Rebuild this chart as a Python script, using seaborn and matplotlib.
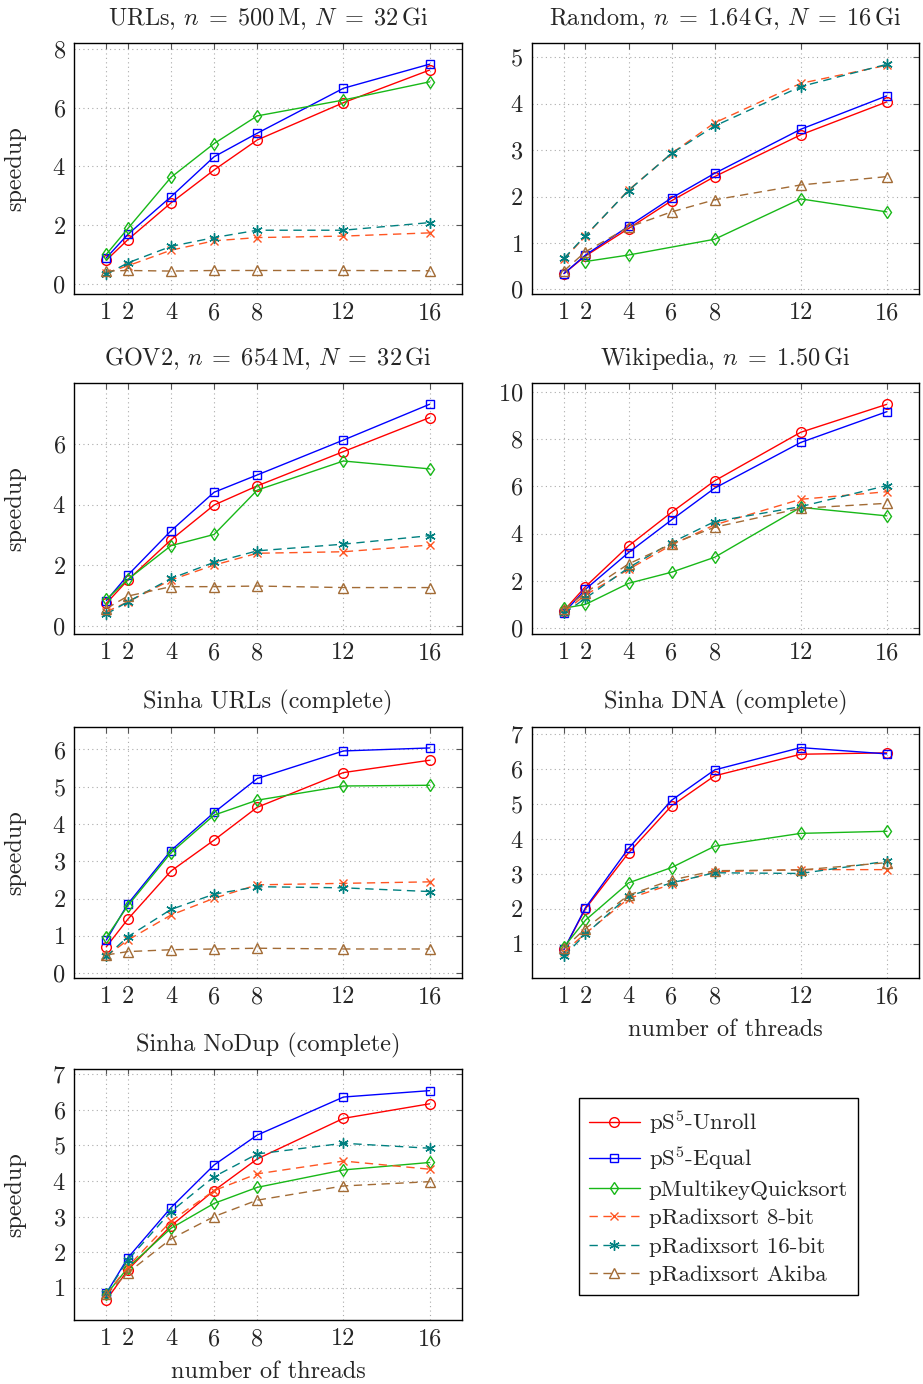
import numpy as np
import pandas as pd
import matplotlib
matplotlib.use("Agg")
import matplotlib.pyplot as plt
import seaborn as sns

threads = [1, 2, 4, 6, 8, 12, 16]
xtick_labels = ["1", "2", "4", "6", "8", "12", "16"]

series_names = ["pS$^5$-Unroll", "pS$^5$-Equal", "pMultikeyQuicksort",
                "pRadixsort 8-bit", "pRadixsort 16-bit", "pRadixsort Akiba"]

# --- URLs ---
urls_unroll = [0.81, 1.51, 2.76, 3.88, 4.90, 6.17, 7.28]
urls_equal = [0.89, 1.69, 2.97, 4.33, 5.13, 6.66, 7.48]
urls_mkqs = [1.01, 1.89, 3.63, 4.78, 5.72, 6.26, 6.88]
urls_rx8 = [0.38, 0.62, 1.15, 1.47, 1.58, 1.63, 1.74]
urls_rx16 = [0.33, 0.72, 1.28, 1.58, 1.83, 1.83, 2.09]
urls_akiba = [0.44, 0.46, 0.44, 0.46, 0.46, 0.46, 0.45]

# --- Random ---
rand_unroll = [0.34, 0.72, 1.31, 1.91, 2.43, 3.33, 4.04]
rand_equal = [0.34, 0.74, 1.36, 1.97, 2.50, 3.45, 4.17]
rand_mkqs = [np.nan, 0.60, 0.74, np.nan, 1.08, 1.95, 1.67]
rand_rx8 = [0.65, 1.15, 2.14, 2.93, 3.59, 4.44, 4.83]
rand_rx16 = [0.67, 1.16, 2.13, 2.93, 3.52, 4.37, 4.85]
rand_akiba = [0.40, 0.81, 1.34, 1.67, 1.93, 2.25, 2.43]

# --- GOV2 ---
gov_unroll = [0.75, 1.52, 2.84, 3.99, 4.62, 5.75, 6.87]
gov_equal = [0.84, 1.68, 3.14, 4.41, 4.98, 6.13, 7.31]
gov_mkqs = [0.88, 1.54, 2.65, 3.02, 4.48, 5.44, 5.18]
gov_rx8 = [0.47, 0.80, 1.52, 2.01, 2.40, 2.45, 2.67]
gov_rx16 = [0.40, 0.80, 1.57, 2.10, 2.48, 2.70, 2.98]
gov_akiba = [0.58, 0.99, 1.30, 1.30, 1.32, 1.27, 1.27]

# --- Wikipedia ---
wiki_unroll = [0.75, 1.76, 3.48, 4.90, 6.23, 8.28, 9.46]
wiki_equal = [0.66, 1.65, 3.20, 4.58, 5.92, 7.85, 9.15]
wiki_mkqs = [0.85, 1.01, 1.90, 2.37, 3.00, 5.11, 4.75]
wiki_rx8 = [0.70, 1.41, 2.49, 3.52, 4.37, 5.45, 5.77]
wiki_rx16 = [0.63, 1.27, 2.56, 3.62, 4.51, 5.14, 6.03]
wiki_akiba = [0.80, 1.51, 2.72, 3.56, 4.27, 5.07, 5.28]

# --- Sinha URLs ---
surl_unroll = [0.71, 1.45, 2.74, 3.57, 4.45, 5.38, 5.71]
surl_equal = [0.89, 1.86, 3.29, 4.31, 5.22, 5.96, 6.04]
surl_mkqs = [0.96, 1.81, 3.23, 4.24, 4.64, 5.02, 5.04]
surl_rx8 = [0.46, 0.89, 1.56, 2.01, 2.37, 2.41, 2.45]
surl_rx16 = [0.45, 0.98, 1.71, 2.12, 2.32, 2.29, 2.19]
surl_akiba = [0.49, 0.58, 0.63, 0.65, 0.67, 0.65, 0.65]

# --- Sinha DNA ---
dna_unroll = [0.83, 2.00, 3.60, 4.95, 5.81, 6.43, 6.47]
dna_equal = [0.83, 2.03, 3.73, 5.11, 5.98, 6.62, 6.44]
dna_mkqs = [0.90, 1.67, 2.74, 3.18, 3.79, 4.16, 4.22]
dna_rx8 = [0.76, 1.29, 2.29, 2.70, 3.06, 3.12, 3.12]
dna_rx16 = [0.64, 1.27, 2.36, 2.74, 3.03, 3.01, 3.36]
dna_akiba = [0.86, 1.43, 2.39, 2.82, 3.09, 3.11, 3.32]

# --- Sinha NoDup ---
nodup_unroll = [0.65, 1.50, 2.74, 3.73, 4.62, 5.76, 6.17]
nodup_equal = [0.84, 1.84, 3.25, 4.45, 5.29, 6.36, 6.54]
nodup_mkqs = [0.81, 1.56, 2.67, 3.37, 3.82, 4.31, 4.52]
nodup_rx8 = [0.81, 1.59, 2.87, 3.73, 4.20, 4.56, 4.33]
nodup_rx16 = [0.84, 1.78, 3.14, 4.12, 4.76, 5.06, 4.92]
nodup_akiba = [0.81, 1.42, 2.37, 3.00, 3.46, 3.86, 3.98]

titles = [
    r"URLs, $n \;=\; 500\,\mathrm{M}$, $N \;=\; 32\,\mathrm{Gi}$",
    r"Random, $n \;=\; 1.64\,\mathrm{G}$, $N \;=\; 16\,\mathrm{Gi}$",
    r"GOV2, $n \;=\; 654\,\mathrm{M}$, $N \;=\; 32\,\mathrm{Gi}$",
    r"Wikipedia, $n \;=\; 1.50\,\mathrm{Gi}$",
    "Sinha URLs (complete)",
    "Sinha DNA (complete)",
    "Sinha NoDup (complete)",
]
panel_data = [
    [urls_unroll, urls_equal, urls_mkqs, urls_rx8, urls_rx16, urls_akiba],
    [rand_unroll, rand_equal, rand_mkqs, rand_rx8, rand_rx16, rand_akiba],
    [gov_unroll, gov_equal, gov_mkqs, gov_rx8, gov_rx16, gov_akiba],
    [wiki_unroll, wiki_equal, wiki_mkqs, wiki_rx8, wiki_rx16, wiki_akiba],
    [surl_unroll, surl_equal, surl_mkqs, surl_rx8, surl_rx16, surl_akiba],
    [dna_unroll, dna_equal, dna_mkqs, dna_rx8, dna_rx16, dna_akiba],
    [nodup_unroll, nodup_equal, nodup_mkqs, nodup_rx8, nodup_rx16, nodup_akiba],
]
yticks_list = [
    [0, 2, 4, 6, 8],
    [0, 1, 2, 3, 4, 5],
    [0, 2, 4, 6],
    [0, 2, 4, 6, 8, 10],
    [0, 1, 2, 3, 4, 5, 6],
    [1, 2, 3, 4, 5, 6, 7],
    [1, 2, 3, 4, 5, 6, 7],
]
ylims = [(-0.34, 8.2), (-0.10, 5.31), (-0.26, 8.0), (-0.24, 10.35),
         (-0.12, 6.61), (0.02, 7.22), (0.09, 7.14)]

colors = ["#ff0000", "#0000ff", "#18b818", "#ff5522", "#008080", "#a26b35"]
markers = ["o", "s", "d", "x", (6, 2, 0), "^"]
msizes = [7.0, 6.0, 6.5, 6.0, 7.5, 6.5]
dash = (0, (6, 4))
linestyles = ["-", "-", "-", dash, dash, dash]

sns.set_theme(style="white")
plt.rcParams["font.family"] = ["cmr10", "DejaVu Serif"]
plt.rcParams["mathtext.fontset"] = "cm"
plt.rcParams["axes.formatter.use_mathtext"] = True
plt.rcParams["axes.unicode_minus"] = False

W, H = 923, 1384
fig = plt.figure(figsize=(W / 100, H / 100), dpi=100)
fig.patch.set_facecolor("white")

col_x = [(74, 462), (531.7, 919)]
row_y = [(43, 294), (383.3, 634), (726.7, 977.7), (1069.3, 1320)]

FS = 17.5
FS_LEG = 16.5

axes = []
for i in range(7):
    r, c = divmod(i, 2)
    x0, x1 = col_x[c]
    y0, y1 = row_y[r]
    ax = fig.add_axes([x0 / W, 1 - y1 / H, (x1 - x0) / W, (y1 - y0) / H])
    axes.append(ax)
    rows = []
    for s, vals in enumerate(panel_data[i]):
        for t, v in zip(threads, vals):
            rows.append({"threads": t, "speedup": v, "series": series_names[s]})
    df = pd.DataFrame(rows).dropna()
    for s, name in enumerate(series_names):
        sub = df[df["series"] == name]
        sns.lineplot(data=sub, x="threads", y="speedup", ax=ax,
                     color=colors[s], marker=markers[s], markersize=msizes[s],
                     markerfacecolor="none", markeredgecolor=colors[s],
                     markeredgewidth=1.0, linestyle=linestyles[s], lw=1.0,
                     estimator=None, sort=False, legend=False, label=name)
    ax.set_xlim(-0.5, 17.5)
    ax.set_ylim(*ylims[i])
    ax.set_xticks(threads)
    ax.set_xticklabels(xtick_labels)
    ax.set_yticks(yticks_list[i])
    ax.tick_params(direction="in", top=True, right=True, length=4, width=0.8,
                   color="#555555", labelsize=FS, pad=6)
    ax.grid(True, linestyle=(0, (1, 3)), color="#aaaaaa", linewidth=0.8)
    for sp in ax.spines.values():
        sp.set_color("black")
        sp.set_linewidth(1.0)
    ax.set_title(titles[i], fontsize=FS, pad=13)
    ax.set_xlabel("")
    ax.set_ylabel("")
    if c == 0:
        ax.set_ylabel("speedup", fontsize=FS)
        ax.yaxis.set_label_coords(-0.124, 0.5)
    if i in (5, 6):
        ax.set_xlabel("number of threads", fontsize=FS)
        ax.xaxis.set_label_coords(0.5, -0.165)

handles, labels = axes[0].get_legend_handles_labels()
leg = fig.legend(handles, labels, loc="center",
                 bbox_to_anchor=(718.7 / W, 1 - 1196.5 / H),
                 fontsize=FS_LEG, frameon=True, fancybox=False, edgecolor="black",
                 framealpha=1, handlelength=2.2, handletextpad=0.4,
                 labelspacing=0.35, borderpad=0.45, numpoints=1)
leg.get_frame().set_linewidth(1.0)

fig.savefig("out.png", dpi=100, facecolor="white")
